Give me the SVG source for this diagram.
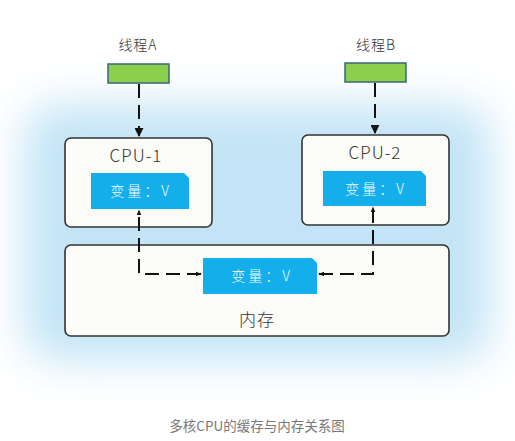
<svg xmlns="http://www.w3.org/2000/svg" width="515" height="441" viewBox="0 0 515 441">
<defs>
<filter id="glow" x="-30%" y="-30%" width="160%" height="160%"><feGaussianBlur stdDeviation="22"/></filter>
<marker id="ah" viewBox="0 0 10 10" refX="9" refY="5" markerWidth="9" markerHeight="9" orient="auto-start-reverse" markerUnits="userSpaceOnUse"><path d="M0,0 L10,5 L0,10 z" fill="#111"/></marker>
<marker id="ahs" viewBox="0 0 10 10" refX="9" refY="5" markerWidth="6" markerHeight="6" orient="auto-start-reverse" markerUnits="userSpaceOnUse"><path d="M0,1 L10,5 L0,9 z" fill="#111"/></marker>
</defs>
<style>
text{font-family:"Noto Sans CJK SC","Noto Sans",sans-serif}
.box{fill:#fbfbf8;stroke:#333;stroke-width:1.6}
.var{fill:#14aeea}
.vt{fill:#fff;font-size:14px;text-anchor:middle;letter-spacing:3px;font-weight:300}
.lbl{fill:#333;font-size:17px;text-anchor:middle;font-weight:300;letter-spacing:1px}
.thr{fill:#8ccf4d;stroke:#3d6478;stroke-width:1.5}
.dash{fill:none;stroke:#111;stroke-width:2;stroke-dasharray:14,7}
</style>
<rect width="515" height="441" fill="#fff"/>
<rect x="25" y="105" width="465" height="255" rx="30" fill="#c2e4f6" filter="url(#glow)"/>
<g id="threadA">
<text class="lbl" x="138" y="50" style="font-size:14px">线程A</text>
<rect class="thr" x="108" y="64" width="61" height="19"/>
</g>
<g id="threadB">
<text class="lbl" x="376" y="50" style="font-size:14px">线程B</text>
<rect class="thr" x="345" y="63" width="61" height="19"/>
</g>
<g id="cpu1">
<rect class="box" x="65" y="138" width="147" height="89" rx="6"/>
<text class="lbl" x="136" y="162">CPU-1</text>
<path class="var" d="M91,173 H184 L189,178 V209 H91 Z"/>
<text class="vt" x="141" y="196">变量：V</text>
</g>
<g id="cpu2">
<rect class="box" x="302" y="135" width="147" height="90" rx="6"/>
<text class="lbl" x="375" y="159">CPU-2</text>
<path class="var" d="M323,171 H421 L426,176 V206 H323 Z"/>
<text class="vt" x="376" y="194">变量：V</text>
</g>
<g id="memory">
<rect class="box" x="65" y="245" width="384" height="91" rx="6"/>
<path class="var" d="M203,258 H312 L317,263 V294 H203 Z"/>
<text class="vt" x="262" y="281">变量：V</text>
<text class="lbl" x="257" y="326">内存</text>
</g>
<g id="connectors">
<path class="dash" d="M139,84 V136" marker-end="url(#ah)"/>
<path class="dash" d="M375,83 V133" marker-end="url(#ah)"/>
<path class="dash" d="M201,274 H139 V210" marker-start="url(#ahs)" marker-end="url(#ahs)"/>
<path class="dash" d="M319,274 H373 V207" marker-start="url(#ahs)" marker-end="url(#ahs)"/>
</g>
<text x="257" y="431" fill="#777" font-size="13.5" text-anchor="middle">多核CPU的缓存与内存关系图</text>
</svg>
